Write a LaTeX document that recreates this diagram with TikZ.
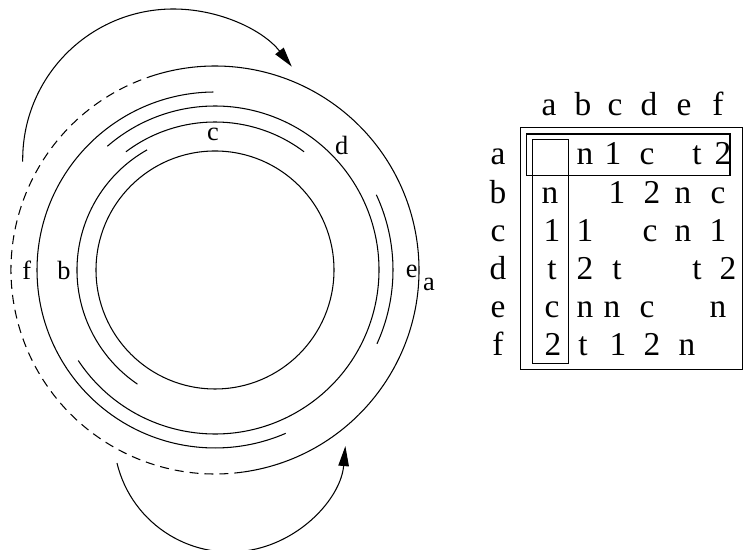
\documentclass[tikz,border=0pt]{standalone}
\usepackage{fontspec}
\setmainfont{Liberation Serif}
\usetikzlibrary{arrows.meta}

\begin{document}
\begin{tikzpicture}[x=0.02cm,y=0.02cm,line width=0.6pt,
  >={Triangle[length=4mm,width=2.1mm]},
  hidden/.style={dash pattern=on 1.8mm off 1.2mm},
  lbl/.style={inner sep=0pt,font=\fontsize{15}{18}\selectfont},
  tab/.style={inner sep=0pt,anchor=base,font=\fontsize{19}{22}\selectfont}]
  \useasboundingbox (0,0) rectangle (745,550);

  % rings round one centre
  \coordinate (o) at (215,280);
  \draw (o) circle (119);
  \draw (o) ++(119.5:138) arc (119.5:235.8:138);
  \draw (o) ++(53:148) arc (53:127:148);
  \draw (o) ++(-146.5:164) arc (-146.5:131:164);
  \draw (o) ++(90.5:178) arc (90.5:293.4:178);
  \draw (o) ++(-24.5:178) arc (-24.5:25:178);
  \draw (o) ++(-82:204) arc (-82:107:204);
  \draw[hidden] (o) ++(107:204) arc (107:278:204);

  \node[lbl] (c) at (213,416) {c};
  \node[lbl] (d) at (341.7,405) {d};
  \node[lbl] (f) at (26.7,280) {f};
  \node[lbl] (b) at (64,280) {b};
  \node[lbl] (e) at (411.7,278.5) {e};
  \node[lbl] (a) at (429,266) {a};

  % turning arrows
  \coordinate (top) at (173.3,390.4);
  \coordinate (bot) at (229.8,114);
  \draw[->] (top) ++(180.8:150.6) arc (180.8:38.1:150.6);
  \draw[->] (bot) ++(193.5:116) arc (193.5:355:116);

  % table
  \foreach \x/\c in {549/a,583/b,615/c,649/d,684/e,718/f}
    \node[tab] (h-\c) at (\x,434) {\c};
  \foreach \y/\r in {385/a,346.8/b,308.6/c,270.4/d,232.2/e,194/f}
    \node[tab] (r-\r) at (498,\y) {\r};

  \foreach \x/\t [count=\i] in {585/n,613/1,647/c,697/t,723/2}
    \node[tab] (a-\i) at (\x,385) {\t};
  \foreach \x/\t [count=\i] in {550/n,617/1,652/2,683/n,718/c}
    \node[tab] (b-\i) at (\x,346.8) {\t};
  \foreach \x/\t [count=\i] in {552/1,585/1,650/c,683/n,718/1}
    \node[tab] (c-\i) at (\x,308.6) {\t};
  \foreach \x/\t [count=\i] in {552/t,585/2,617/t,697/t,728/2}
    \node[tab] (d-\i) at (\x,270.4) {\t};
  \foreach \x/\t [count=\i] in {552/c,585/n,612/n,647/c,718/n}
    \node[tab] (e-\i) at (\x,232.2) {\t};
  \foreach \x/\t [count=\i] in {553/2,583/t,618/1,652/2,687/n}
    \node[tab] (f-\i) at (\x,194) {\t};

  \draw (520.7,422.3) rectangle (742.7,180.3);
  \draw (526.7,416) rectangle (730,374.7);
  \draw (532.7,410.7) rectangle (568.3,186.3);
\end{tikzpicture}
\end{document}
